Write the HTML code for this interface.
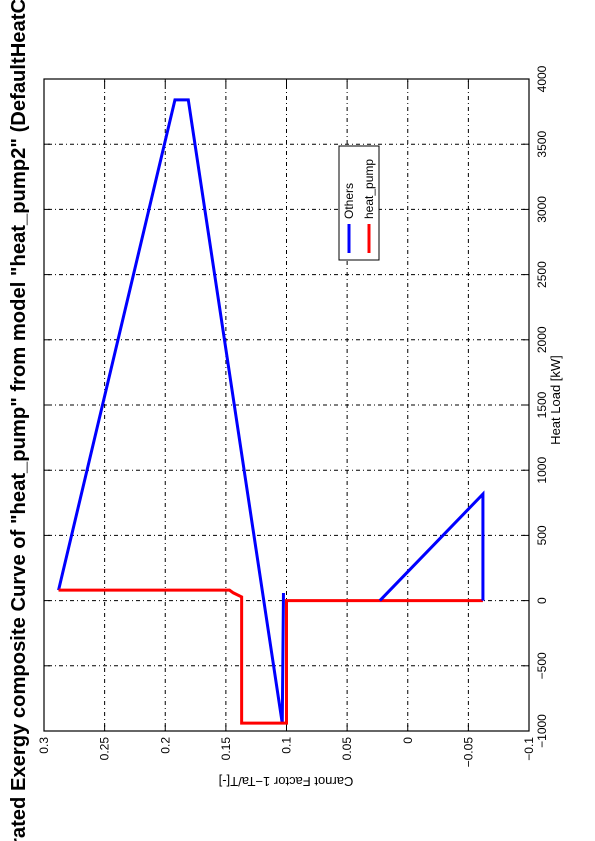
<!DOCTYPE html>
<html><head><meta charset="utf-8"><style>
html,body{margin:0;padding:0;background:#fff;width:595px;height:841px;overflow:hidden;}
#rot{position:absolute;left:0;top:0;width:841px;height:595px;transform-origin:0 0;transform:translate(0,841px) rotate(-90deg);}
text{font-family:"Liberation Sans",sans-serif;fill:#000;}
</style></head><body>
<div id="rot">
<svg id="chart" width="841" height="595" xmlns="http://www.w3.org/2000/svg">
<text x="432" y="25" text-anchor="middle" font-size="20.2" font-weight="bold">Integrated Exergy composite Curve of "heat_pump" from model "heat_pump2" (DefaultHeatCascade)</text>
<g id="grid"></g>
<g id="ticks"></g>
<g id="series"></g>
<rect x="110" y="44" width="652" height="485" fill="none" stroke="#000" stroke-width="1.2"/>
<text x="441" y="560" text-anchor="middle" font-size="13">Heat Load [kW]</text>
<text transform="translate(64,286) rotate(-90)" text-anchor="middle" font-size="13">Carnot Factor 1−Ta/T[-]</text>
<g>
<rect x="581" y="339" width="114" height="40" fill="#fff" stroke="#000" stroke-width="1"/>
<line x1="588" y1="349" x2="617" y2="349" stroke="#0000ff" stroke-width="3"/>
<text x="622" y="353" font-size="12">Others</text>
<line x1="588" y1="369" x2="617" y2="369" stroke="#ff0000" stroke-width="3"/>
<text x="622" y="373" font-size="12">heat_pump</text>
</g>
</svg>
</div>
<script>
const xTicks=[-1000,-500,0,500,1000,1500,2000,2500,3000,3500,4000];
const yTicks=[-0.1,-0.05,0,0.05,0.1,0.15,0.2,0.25,0.3];
const yTickLabels=["−0.1","−0.05","0","0.05","0.1","0.15","0.2","0.25","0.3"];
const othersA_heat=[58,-940,3840,3840,80];
const othersA_cf=[0.1025,0.1035,0.181,0.192,0.288];
const othersB_heat=[0,817,0];
const othersB_cf=[0.023,-0.062,-0.062];
const hp_heat=[80,80,60,28,-940,-940,0,0];
const hp_cf=[0.288,0.147,0.144,0.137,0.137,0.1,0.1,-0.062];
const NS="http://www.w3.org/2000/svg";
const X=v=>110+(v+1000)/5000*652;
const Y=v=>529-(v+0.1)/0.4*485;
const grid=document.getElementById('grid'),ticks=document.getElementById('ticks'),series=document.getElementById('series');
function mk(tag,attrs,parent){const e=document.createElementNS(NS,tag);for(const k in attrs)e.setAttribute(k,attrs[k]);parent.appendChild(e);return e;}
xTicks.forEach((t,i)=>{
  const x=X(t);
  if(i>0&&i<xTicks.length-1){const g=mk('line',{x1:x,y1:44,x2:x,y2:529,stroke:'#000','stroke-width':1,'stroke-dasharray':'1,3,4,3'},grid);
  
  }
  mk('line',{x1:x,y1:529,x2:x,y2:523,stroke:'#000'},ticks);
  mk('line',{x1:x,y1:44,x2:x,y2:50,stroke:'#000'},ticks);
  const tx=mk('text',{x:x,y:546,'text-anchor':'middle','font-size':12},ticks);
  tx.textContent=String(t).replace('-','−');
  
  
});
yTicks.forEach((t,i)=>{
  const y=Y(t);
  if(i>0&&i<yTicks.length-1){const g=mk('line',{x1:110,y1:y,x2:762,y2:y,stroke:'#000','stroke-width':1,'stroke-dasharray':'1,3,4,3'},grid);
  
  }
  mk('line',{x1:110,y1:y,x2:116,y2:y,stroke:'#000'},ticks);
  mk('line',{x1:762,y1:y,x2:756,y2:y,stroke:'#000'},ticks);
  const tx=mk('text',{x:104,y:y+4,'text-anchor':'end','font-size':12},ticks);
  tx.textContent=yTickLabels[i];
  
  
});
function line(hs,cs,color,name){
  const pts=hs.map((h,i)=>X(h)+','+Y(cs[i])).join(' ');
  const p=mk('polyline',{points:pts,fill:'none',stroke:color,'stroke-width':3,'stroke-linejoin':'miter'},series);
  
  
}
line(othersA_heat,othersA_cf,'#0000ff','others-line-main');
line(hp_heat,hp_cf,'#ff0000','heat-pump-line');
line(othersB_heat,othersB_cf,'#0000ff','others-line-triangle');
</script>
</body></html>
